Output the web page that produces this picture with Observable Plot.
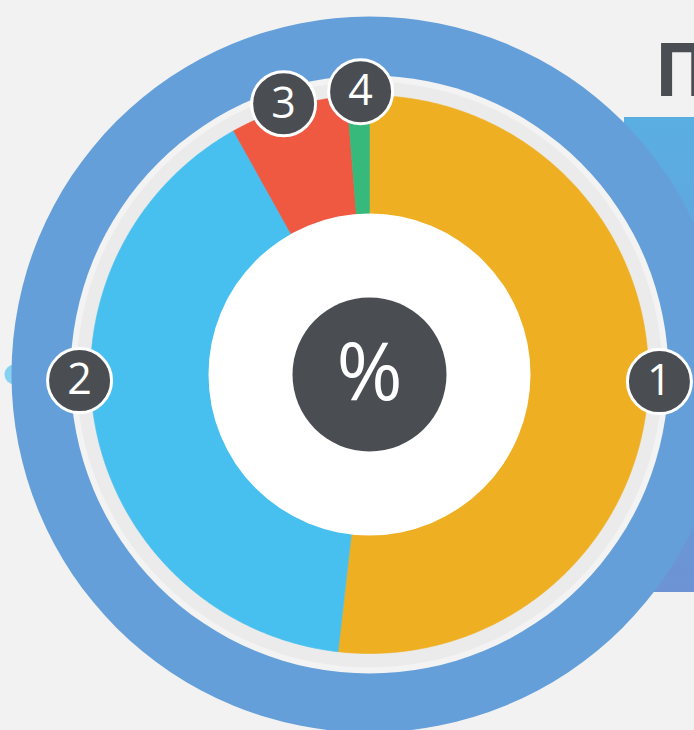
<!DOCTYPE html>
<html>
<head>
<meta charset="utf-8">
<script src="https://cdn.jsdelivr.net/npm/d3@7"></script>
<script src="https://cdn.jsdelivr.net/npm/@observablehq/plot@0.6"></script>
<style>
  html, body { margin: 0; padding: 0; background: #f2f2f2; }
  #chart { width: 694px; height: 730px; overflow: hidden; }
</style>
</head>
<body>
<div id="chart"></div>
<script>
// ---- data ----
const categories = ["1", "2", "3", "4"];
const values = [51.8, 40.1, 6.8, 1.3];            // percent shares, clockwise from 12 o'clock
const colors = ["#eeaf22", "#47c0ef", "#ef5841", "#37b97b"];
const labelAngle = [91.4, 268.8, 342.4, 358.2];   // badge positions, degrees clockwise from top
const labelRadius = [290, 290, 284, 283];
const centerLabel = "%";
const titleText = "Процент";

// ---- geometry helpers built from the data ----
const total = d3.sum(values);
const R_OUT = 279;
const wedgePts = [];
let acc = 0;
categories.forEach((c, i) => {
  const a0 = acc / total * 360, a1 = (acc + values[i]) / total * 360;
  acc += values[i];
  wedgePts.push({cat: c, x: 0, y: 0});
  const n = Math.max(2, Math.ceil((a1 - a0) / 0.5));
  for (let k = 0; k <= n; k++) {
    const a = (a0 + (a1 - a0) * k / n) * Math.PI / 180;
    wedgePts.push({cat: c, x: R_OUT * Math.sin(a), y: R_OUT * Math.cos(a)});
  }
  wedgePts.push({cat: c, x: 0, y: 0});
});
const badges = categories.map((c, i) => {
  const a = labelAngle[i] * Math.PI / 180;
  return {cat: c, x: labelRadius[i] * Math.sin(a), y: labelRadius[i] * Math.cos(a)};
});
const origin = [{x: 0, y: 0}];

const chart = Plot.plot({
  width: 694,
  height: 730,
  margin: 0,
  style: {background: "#f2f2f2", overflow: "hidden"},
  x: {domain: [-369, 325], axis: null},
  y: {domain: [-356, 374], axis: null},
  color: {domain: categories, range: colors},
  marks: [
    // decorative backdrop panel at right
    Plot.rect([{x1: 255, x2: 340, y1: -218, y2: 257}], {x1: "x1", x2: "x2", y1: "y1", y2: "y2", fill: "url(#panelGrad)"}),
    Plot.dot([{x: -355, y: 0}], {x: "x", y: "y", r: 10, fill: "#84d1f2"}),
    // rings
    Plot.dot(origin, {x: "x", y: "y", r: 358, fill: "#659fda"}),
    Plot.dot(origin, {x: "x", y: "y", r: 299, fill: "#f3f3f3"}),
    Plot.dot(origin, {x: "x", y: "y", r: 293, fill: "#ebebeb"}),
    // wedges
    Plot.line(wedgePts, {x: "x", y: "y", z: "cat", fill: "cat", stroke: "cat", strokeWidth: 0.6, curve: "linear"}),
    // hole and centre badge
    Plot.dot(origin, {x: "x", y: "y", r: 161, fill: "#ffffff"}),
    Plot.dot(origin, {x: "x", y: "y", r: 77, fill: "#4a4e52"}),
    Plot.text([centerLabel], {x: 0, y: 0, text: d => d, fill: "white", fontSize: 80, fontFamily: "Open Sans", fontWeight: 400}),
    // number badges
    Plot.dot(badges, {x: "x", y: "y", r: 32, fill: "#4a4e52", stroke: "white", strokeWidth: 3}),
    Plot.text(badges, {x: "x", y: "y", text: "cat", fill: "white", fontSize: 43, fontFamily: "Open Sans", fontWeight: 400}),
    // title (cut off at the right edge, as in the original)
    Plot.text([titleText], {x: 285, y: 302, text: d => d, textAnchor: "start", fill: "#4a4e52", fontSize: 73, fontFamily: "Open Sans", fontWeight: 700})
  ]
});

chart.insertAdjacentHTML("afterbegin",
  '<defs><linearGradient id="panelGrad" x1="0" y1="0" x2="0" y2="1">' +
  '<stop offset="0" stop-color="#5aaee2"/><stop offset="1" stop-color="#6d93d4"/>' +
  '</linearGradient></defs>');
document.getElementById("chart").appendChild(chart);
</script>
</body>
</html>
